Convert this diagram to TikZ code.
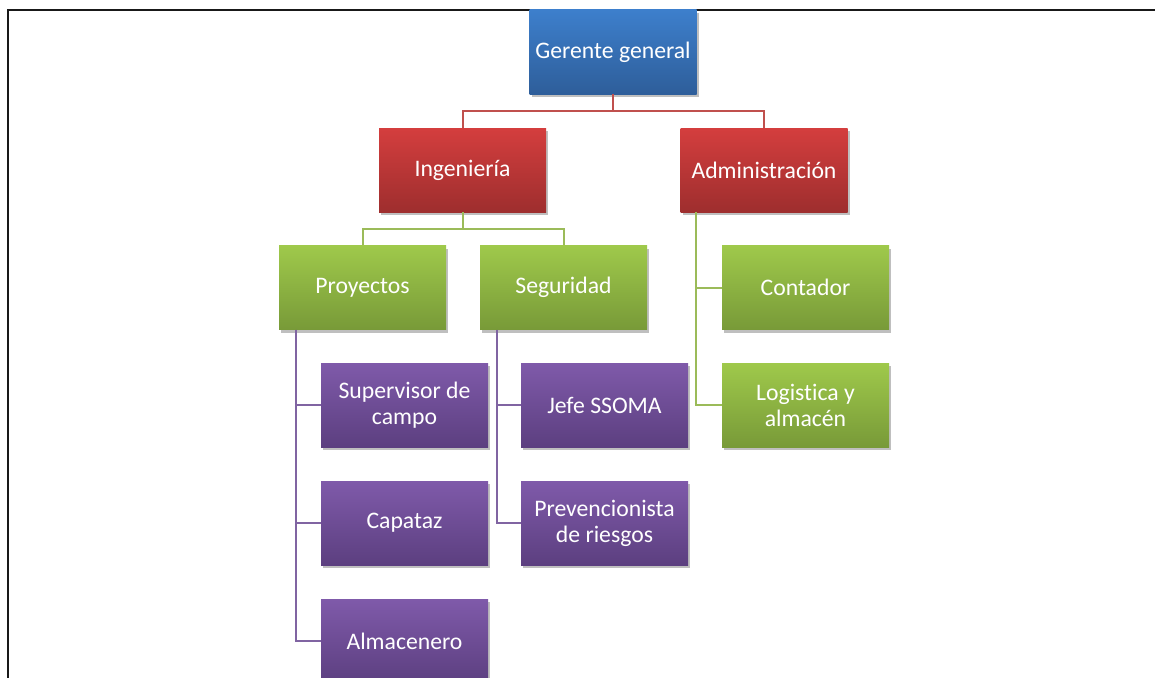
\documentclass[tikz,border=0pt]{standalone}
\usepackage{fontspec}
\setmainfont{Carlito}[Ligatures=NoCommon]
\usetikzlibrary{shadows}
\definecolor{bluetop}{HTML}{3D7FCC}
\definecolor{bluebot}{HTML}{2E5E9A}
\definecolor{redtop}{HTML}{D43E3E}
\definecolor{redbot}{HTML}{9E2E2E}
\definecolor{greentop}{HTML}{9FC94B}
\definecolor{greenbot}{HTML}{789A38}
\definecolor{purtop}{HTML}{7F5AAA}
\definecolor{purbot}{HTML}{5C3F80}
\definecolor{redln}{HTML}{C0504D}
\definecolor{greenln}{HTML}{9BBB59}
\definecolor{purln}{HTML}{8064A2}
\tikzset{
  box/.style={minimum width=167pt, minimum height=84pt, inner sep=0pt, align=center,
    text=white, font=\fontsize{23.7}{26}\selectfont,
    drop shadow={shadow xshift=2pt, shadow yshift=-3pt, opacity=0.25, fill=black}},
  bluebox/.style={box, top color=bluetop, bottom color=bluebot},
  redbox/.style={box, top color=redtop, bottom color=redbot},
  greenbox/.style={box, top color=greentop, bottom color=greenbot},
  purbox/.style={box, top color=purtop, bottom color=purbot},
  redline/.style={draw=redln, line width=2pt},
  greenline/.style={draw=greenln, line width=2pt},
  purline/.style={draw=purln, line width=2pt},
}
\begin{document}
\begin{tikzpicture}[x=1pt, y=-1pt]
\useasboundingbox (0,0) rectangle (1155,677);
\clip (0,0) rectangle (1155,677);
\fill[white] (0,0) rectangle (1155,677);
\draw[line width=2.6pt, black!90] (8,690) -- (8,10) -- (1170,10);

\node[bluebox] (g) at (613,52) {Gerente general};
\node[redbox] (ing) at (462.5,170) {Ingeniería};
\node[redbox] (adm) at (764,170) {Administración};
\node[greenbox] (proy) at (362.5,287.5) {Proyectos};
\node[greenbox] (seg) at (563.5,287.5) {Seguridad};
\node[greenbox] (cont) at (805.5,287.5) {Contador};
\node[greenbox] (log) at (805.5,405) {Logistica y\\almacén};
\node[purbox] (sup) at (404.5,405) {Supervisor de\\campo};
\node[purbox] (cap) at (404.5,523) {Capataz};
\node[purbox] (alm) at (404.5,641) {Almacenero};
\node[purbox] (jefe) at (604.5,405) {Jefe SSOMA};
\node[purbox] (prev) at (604.5,523) {Prevencionista\\de riesgos};

% red connectors
\draw[redline] (g.south) -- ++(0,17) coordinate (r1) -| (ing.north);
\draw[redline] (r1) -| (adm.north);
% green connectors under Ingenieria
\draw[greenline] (ing.south) -- ++(0,17) coordinate (g1) -| (proy.north);
\draw[greenline] (g1) -| (seg.north);
% green connectors under Administracion
\draw[greenline] ([xshift=16pt]adm.south west) |- (cont.west);
\draw[greenline] ([xshift=16pt]adm.south west) |- (log.west);
% purple connectors under Proyectos
\draw[purline] ([xshift=17pt]proy.south west) |- (sup.west);
\draw[purline] ([xshift=17pt]proy.south west) |- (cap.west);
\draw[purline] ([xshift=17pt]proy.south west) |- (alm.west);
% purple connectors under Seguridad
\draw[purline] ([xshift=17pt]seg.south west) |- (jefe.west);
\draw[purline] ([xshift=17pt]seg.south west) |- (prev.west);
\end{tikzpicture}
\end{document}
